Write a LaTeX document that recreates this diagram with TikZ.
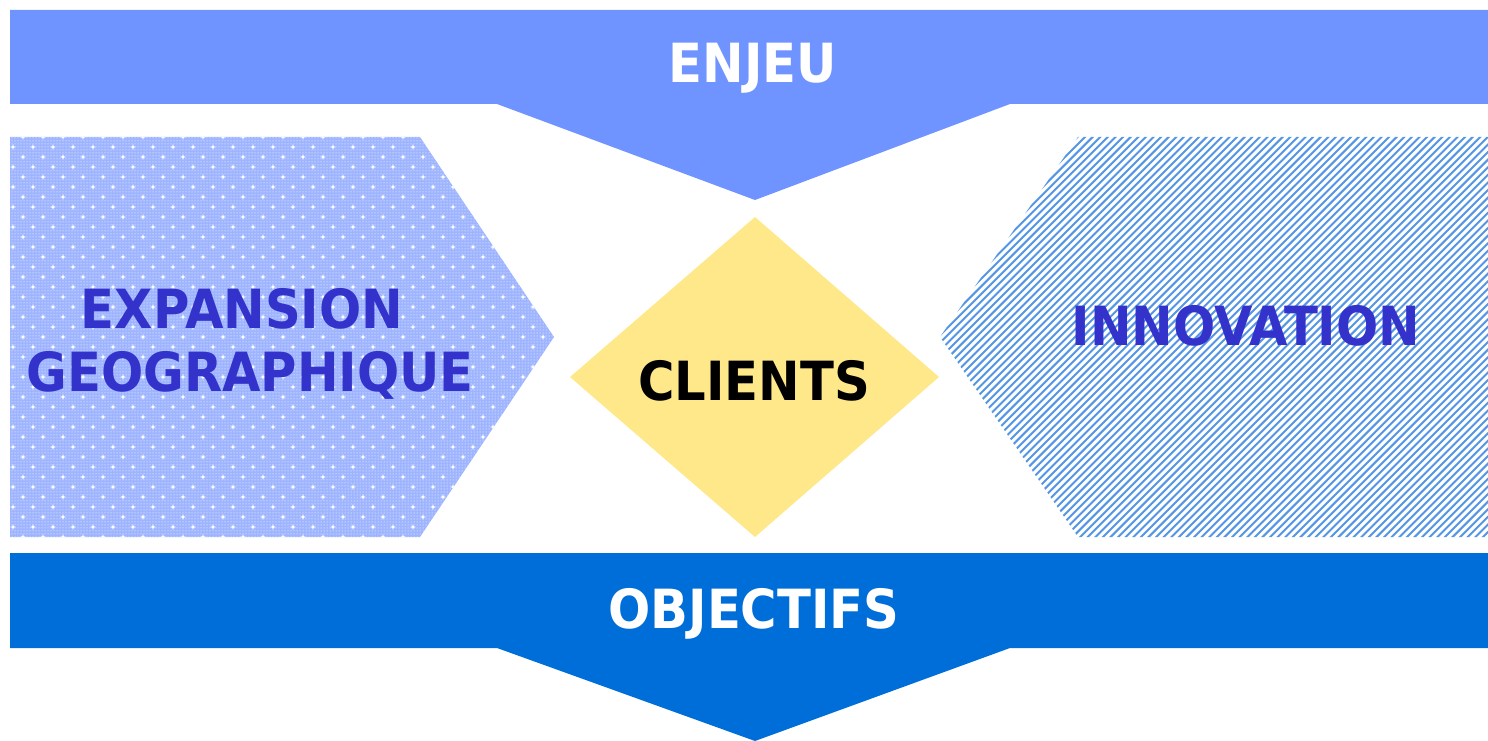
\documentclass[tikz,border=0pt]{standalone}
\usepackage{fontspec}
\usetikzlibrary{patterns}
\newfontfamily\lab{DejaVu Sans}[FakeStretch=0.92]
\definecolor{topblue}{RGB}{112,148,255}
\definecolor{botblue}{RGB}{0,110,216}
\definecolor{diam}{RGB}{255,232,138}
\definecolor{txtblue}{RGB}{51,51,204}
\definecolor{dotbg}{RGB}{158,180,255}
\definecolor{stripe}{RGB}{84,150,228}
\tikzset{
  lbl/.style={anchor=base, inner sep=0pt, font=\lab\bfseries\fontsize{54}{60}\selectfont},
}
\begin{document}
\begin{tikzpicture}[x=1pt,y=-1pt]
\useasboundingbox (0,0) rectangle (1488,741);
% top banner
\fill[topblue] (10,10) -- (1488,10) -- (1488,104) -- (1010,104) -- (755,200) -- (497,104) -- (10,104) -- cycle;
% bottom banner
\fill[botblue] (10,553) -- (1488,553) -- (1488,648) -- (1010,648) -- (755,741) -- (497,648) -- (10,648) -- cycle;
% left dotted arrow
\begin{scope}
\clip (10,137) -- (420,137) -- (554,337) -- (420,537) -- (10,537) -- cycle;
\fill[dotbg] (0,130) rectangle (560,545);
\fill[pattern=dots, pattern color=white] (0,130) rectangle (560,545);
\foreach \j in {0,...,41}{
  \pgfmathsetmacro{\yy}{137+10*\j}
  \pgfmathsetmacro{\off}{mod(\j,2)*10}
  \foreach \i in {0,...,28}{
    \fill[white] (\off+3+20*\i-3,\yy) -- (\off+3+20*\i,\yy-0.9) -- (\off+3+20*\i+3,\yy) -- (\off+3+20*\i,\yy+0.9) -- cycle;
    \fill[white] (\off+3+20*\i-0.9,\yy) -- (\off+3+20*\i,\yy-3) -- (\off+3+20*\i+0.9,\yy) -- (\off+3+20*\i,\yy+3) -- cycle;
  }
}
\end{scope}
% right striped arrow
\begin{scope}
\clip (1078,137) -- (1488,137) -- (1488,537) -- (1078,537) -- (940,337) -- cycle;
\foreach \k in {0,...,152}{
  \draw[stripe, line width=2.0pt] (520+7.6*\k,550) -- (940+7.6*\k,130);
}
\end{scope}
% diamond
\fill[diam] (755,217) -- (939,377) -- (755,537) -- (570,377) -- cycle;
% texts
\node[lbl, text=white] (enjeu) at (753,83) {ENJEU};
\node[lbl, text=white] (obj) at (754,628) {OBJECTIFS};
\node[lbl, text=black] (clients) at (754,400) {CLIENTS};
\node[lbl, text=txtblue] (innov) at (1246,345) {INNOVATION};
\node[lbl, text=txtblue] (exp) at (242,328) {EXPANSION};
\node[lbl, text=txtblue] (geo) at (250,391) {GEOGRAPHIQUE};
\end{tikzpicture}
\end{document}
